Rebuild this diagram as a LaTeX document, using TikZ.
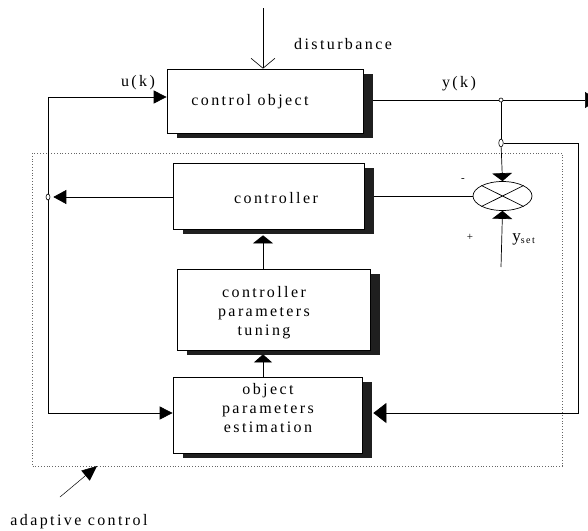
\documentclass[tikz,border=0pt]{standalone}
\usepackage{fontspec}
\setmainfont{Liberation Serif}[LetterSpace=15]
\usetikzlibrary{arrows.meta,shadows,calc,shapes.geometric}
\begin{document}
\begin{tikzpicture}[x=1pt,y=-1pt,
  line width=0.7pt,
  every node/.style={font=\fontsize{16}{19}\selectfont},
  blk/.style={draw, fill=white, line width=0.7pt, inner sep=0pt,
    drop shadow={shadow xshift=10pt, shadow yshift=-5pt, fill=black!88, opacity=1}},
  hz/.style={-{Triangle[length=13pt,width=13pt]}},
  vt/.style={-{Triangle[length=8pt,width=20pt]}},
  jdot/.style={draw, fill=white, ellipse, inner sep=0pt, minimum width=4pt, minimum height=4pt, line width=0.6pt},
  lbl/.style={inner sep=0pt}]
\clip (0,0) rectangle (588,530);
\useasboundingbox (0,0) rectangle (588,530);
% dotted adaptive control frame
\draw[dotted, black!60, line width=0.8pt] (32,153) rectangle (562,466);
% blocks
\node[blk, minimum width=196pt, minimum height=64pt] (obj) at (265,101) {};
\node[blk, minimum width=191pt, minimum height=66pt] (ctrl) at (268.5,196) {};
\node[blk, minimum width=193pt, minimum height=81pt] (tune) at (273.5,309.5) {};
\node[blk, minimum width=189pt, minimum height=76pt] (est) at (267.5,415) {};
\node[draw, ellipse, minimum width=59pt, minimum height=29pt, inner sep=0pt, line width=0.7pt] (sum) at (502.5,196) {};
\draw[line width=0.7pt] (sum.north west) -- (sum.south east) (sum.north east) -- (sum.south west);
% texts in blocks
\node[lbl] (tobj) at (250,102) {control object};
\node[lbl] (tctrl) at (276,198) {controller};
\node[lbl, align=center] (ttune) at (264,313) {controller\\parameters\\tuning};
\node[lbl, align=center] (test) at (268,408) {object\\parameters\\estimation};
% labels
\node[lbl] (tdist) at (343,44) {disturbance};
\node[lbl] (tu) at (138,83) {u(k)};
\node[lbl] (ty) at (459,84) {y(k)};
\node[lbl, font=\fontsize{11}{11}\selectfont] (tminus) at (463,180) {-};
\node[lbl, font=\fontsize{11}{11}\selectfont] (tplus) at (470,237) {+};
\node[lbl, anchor=west] (tyset) at (512,239) {\fontsize{17}{17}\selectfont y\raisebox{-2pt}{\fontsize{10}{10}\selectfont set}};
\node[lbl, anchor=west] (tad) at (10,522) {adaptive control};
% coordinates
\coordinate (dtop) at (263,8);
\coordinate (ul) at (48,97);
\coordinate (el) at (48,413);
\coordinate (xa) at (263,0);
\coordinate (yend) at (598,100);
\coordinate (rr) at (578,143);
\coordinate (ysb) at (501,267);
\coordinate (adt) at (60,497);
\coordinate (adh) at (97,466);
\node[jdot] (j1) at (501,100) {};
\node[jdot, minimum width=4.5pt, minimum height=8pt] (j2) at (501,143) {};
\node[jdot, minimum width=4pt, minimum height=6pt] (jl) at (48,197) {};
% disturbance
\draw[-{Straight Barb[length=10pt,width=24pt]}, line width=0.6pt] (dtop) -- (obj.north -| dtop);
% u(k)
\draw[hz] (ul) -- (obj.west |- ul);
\draw (ul) -- (jl);
\draw[hz] (jl) -- (el) -- (est.west |- el);
% controller output
\draw[-{Triangle[length=13pt,width=14pt]}, shorten >=3pt] (ctrl.west |- jl) -- (jl);
% y(k)
\draw (obj.east |- yend) ++(10,0) -- (j1);
\draw[-{Triangle[length=13pt,width=16pt]}] (j1) -- (yend);
\draw (j1) -- (j2);
\draw[vt] (j2) -- (sum.north);
% feedback to estimation
\draw[-{Triangle[length=13pt,width=20pt]}, shorten >=11pt] (j2) -- (rr) -- (rr |- el) -- (est.east |- el);
% sum to controller
\draw[shorten >=10pt] (sum.west) -- (ctrl.east |- sum.west);
% y set
\draw[vt] (ysb) -- (sum.south);
% tuning to controller
\draw[-{Triangle[length=8pt,width=20pt]}, shorten >=6pt] (tune.north -| xa) -- (ctrl.south -| xa);
\draw[-{Triangle[length=8pt,width=18pt]}, shorten >=4pt] (est.north -| xa) -- (tune.south -| xa);
% adaptive control pointer
\draw[-{Triangle[length=15pt,width=13pt]}, line width=0.5pt] (adt) -- (adh);
\end{tikzpicture}
\end{document}
